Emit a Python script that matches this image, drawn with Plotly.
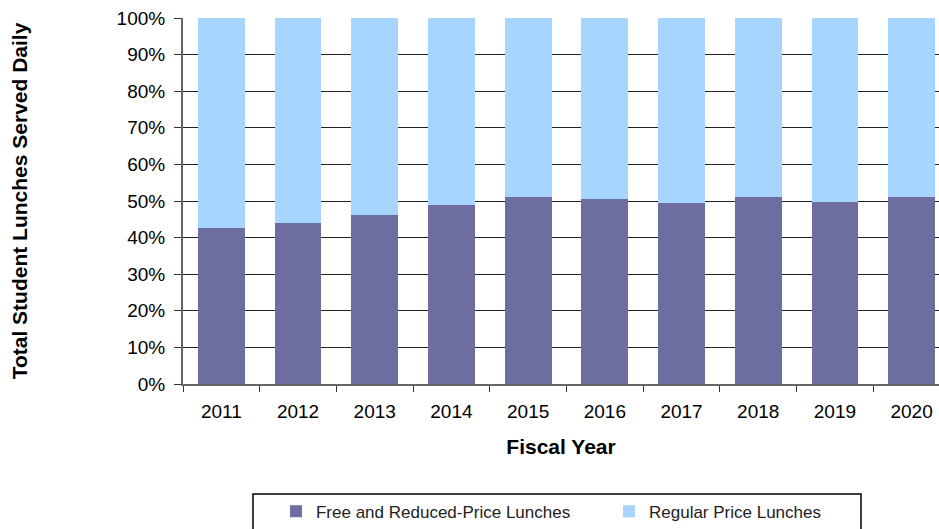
import plotly.graph_objects as go

years = ["2011", "2012", "2013", "2014", "2015", "2016", "2017", "2018", "2019", "2020"]
free_reduced = [42.7, 44.1, 46.2, 48.9, 51.0, 50.5, 49.5, 51.2, 49.6, 51.2]
regular = [round(100 - v, 1) for v in free_reduced]
y_ticks = [0, 10, 20, 30, 40, 50, 60, 70, 80, 90, 100]
y_labels = [f"{t}%" for t in y_ticks]

FONT = "Liberation Sans, Arial, sans-serif"

fig = go.Figure()
fig.add_trace(go.Bar(x=years, y=free_reduced, name="Free and Reduced-Price Lunches",
                     marker=dict(color="#6D6D9F", line=dict(width=0))))
fig.add_trace(go.Bar(x=years, y=regular, name="Regular Price Lunches",
                     marker=dict(color="#A6D6FF", line=dict(width=0))))

fig.update_layout(
    width=939, height=529,
    barmode="stack", bargap=0.39,
    paper_bgcolor="white", plot_bgcolor="white",
    margin=dict(l=183, r=0, t=18, b=145, autoexpand=False),
    font=dict(family=FONT, size=19, color="black"),
    showlegend=True,
    legend=dict(orientation="h", x=0.123, y=-0.30, xanchor="left", yanchor="top",
                traceorder="normal", borderwidth=0, bgcolor="rgba(0,0,0,0)",
                font=dict(size=17, color="#222222"),
                entrywidth=288, entrywidthmode="pixels", itemwidth=30),
    shapes=[dict(type="rect", xref="paper", yref="paper",
                 x0=0.0926, x1=0.8968, y0=-0.3005, y1=-0.45,
                 line=dict(color="black", width=1.5), fillcolor="rgba(0,0,0,0)",
                 layer="below")],
)
fig.update_xaxes(
    type="category", range=[-0.5, 9.357], showgrid=False, automargin=False,
    showline=True, linecolor="#666666", linewidth=2,
    ticks="outside", tickson="boundaries", ticklen=6, tickcolor="#333333",
    ticklabelstandoff=9, ticklabeloverflow="allow",
    title=dict(text="<b>Fiscal Year</b>", font=dict(size=21), standoff=19),
)
fig.update_yaxes(
    range=[0, 100], tickvals=y_ticks, ticktext=y_labels, automargin=False,
    showgrid=True, gridcolor="#222222", gridwidth=1,
    showline=True, linecolor="#666666", linewidth=2,
    ticks="outside", ticklen=7, tickcolor="#333333",
    ticklabelstandoff=5, ticklabeloverflow="allow",
    title=dict(text="<b>Total Student Lunches Served Daily</b>", font=dict(size=21), standoff=83),
)

fig.write_html("out.html", config={"displayModeBar": False},
               post_script="document.body.style.margin='0';document.body.style.overflow='hidden';")
